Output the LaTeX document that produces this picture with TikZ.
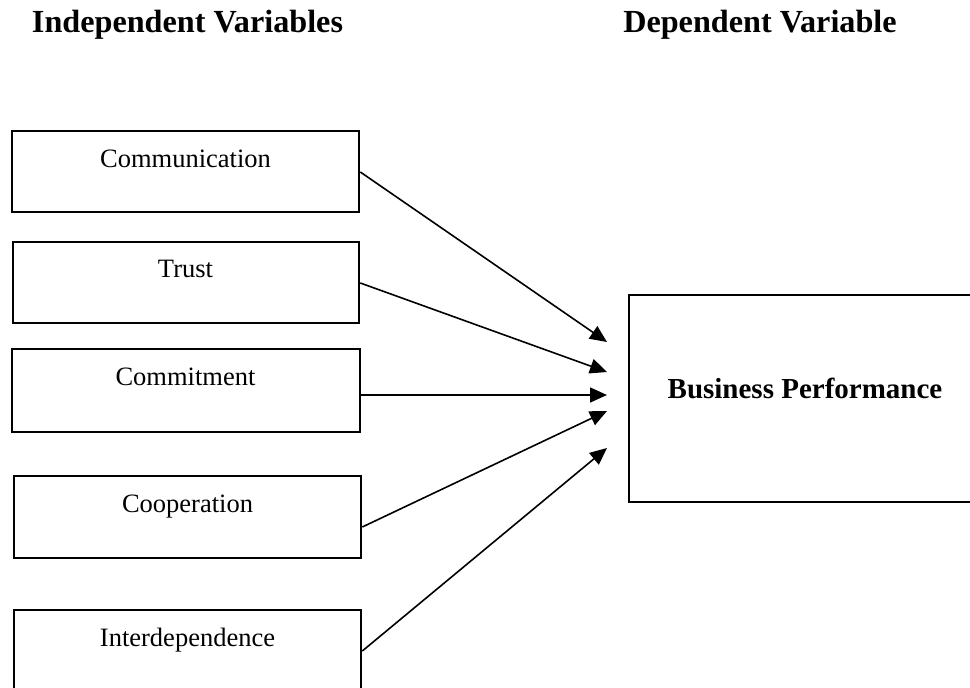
\documentclass[tikz,border=0pt]{standalone}
\usepackage{fontspec}
\setmainfont{Liberation Serif}
\usetikzlibrary{arrows.meta}

\tikzset{
  varbox/.style={draw=black, line width=2.6pt, rectangle, inner sep=0pt,
    minimum width=#1, minimum height=81pt},
  varbox/.default=347pt,
  depbox/.style={draw=black, line width=2pt, rectangle, inner sep=0pt,
    minimum width=347pt, minimum height=207pt},
  vartext/.style={anchor=base, inner sep=0pt,
    font=\fontsize{26.5pt}{30pt}\selectfont},
  deptext/.style={anchor=base, inner sep=0pt,
    font=\fontsize{29pt}{33pt}\selectfont\bfseries},
  heading/.style={anchor=base, inner sep=0pt,
    font=\fontsize{32.2pt}{36pt}\selectfont\bfseries},
  link/.style={draw=black, line width=1.6pt,
    -{Triangle[length=17pt,width=15pt]}}
}

\begin{document}
\begin{tikzpicture}[x=1pt, y=-1pt]
  \useasboundingbox (0,0) rectangle (970,688);

  % column headings
  \node[heading] (hind) at (187.5,32) {Independent Variables};
  \node[heading] (hdep) at (760,32) {Dependent Variable};

  % independent variables
  \node[varbox] (comm)   at (185.5,171.5) {};
  \node[varbox=346pt] (trust) at (186,282.5) {};
  \node[varbox=348pt, minimum height=83pt] (commit) at (186,390.5) {};
  \node[varbox, minimum height=82pt] (coop) at (187.5,517) {};
  \node[varbox] (inter)  at (187.5,650.5) {};

  \node[vartext] (comm-t)   at (185.5,167) {Communication};
  \node[vartext] (trust-t)  at (185.5,277) {Trust};
  \node[vartext] (commit-t) at (185.5,385) {Commitment};
  \node[vartext] (coop-t)   at (187.5,512) {Cooperation};
  \node[vartext] (inter-t)  at (187.5,646) {Interdependence};

  % dependent variable
  \node[depbox] (bp) at (802,398.5) {};
  \node[deptext] (bp-t) at (805,398) {Business Performance};

  % arrow tips in front of the dependent variable
  \coordinate (tip1) at (607,342);
  \coordinate (tip2) at (607,372);
  \coordinate (tip3) at (607,395);
  \coordinate (tip4) at (607,411);
  \coordinate (tip5) at (607,448);

  % (y grows downwards, so a negative yshift moves a point down)
  \draw[link] ([yshift=-0.5pt]comm.east) -- (tip1);
  \draw[link] ([yshift=-0.5pt]trust.east) -- (tip2);
  \draw[link] ([yshift=-4.5pt]commit.east) -- (tip3);
  \draw[link] ([yshift=-10pt]coop.east) -- (tip4);
  \draw[link] ([yshift=-0.5pt]inter.east) -- (tip5);
\end{tikzpicture}
\end{document}
